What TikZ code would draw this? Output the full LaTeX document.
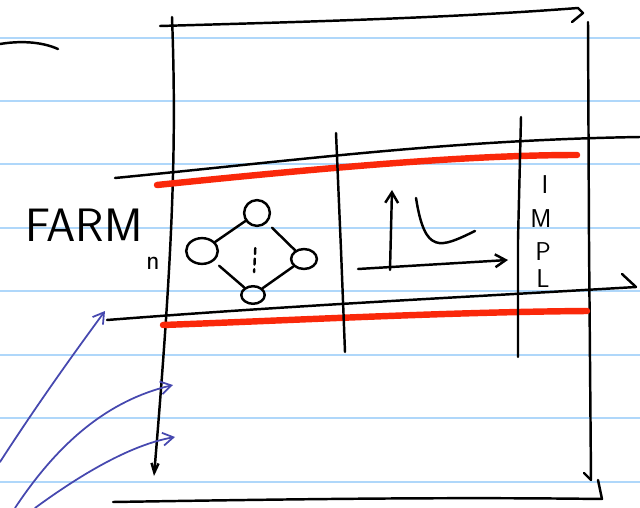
\documentclass[tikz,border=0pt]{standalone}
\usetikzlibrary{arrows.meta,shapes.geometric}

\definecolor{rulecol}{RGB}{175,215,250}
\definecolor{markercol}{RGB}{250,40,10}
\definecolor{inkblue}{RGB}{70,72,175}

\begin{document}
\begin{tikzpicture}[x=0.03cm, y=-0.03cm, line cap=round, line join=round,
    pen/.style={black, line width=2.1pt},
    marker/.style={markercol, line width=5.5pt},
    bluepen/.style={inkblue, line width=1.5pt},
    ruled/.style={rulecol, line width=1.4pt},
    barb/.style={-{Straight Barb[length=9pt, width=11pt]}},
    dot/.style={ellipse, draw, line width=2.1pt, inner sep=0pt},
    bigletter/.style={font=\sffamily\fontsize{40}{44}\selectfont, inner sep=0pt},
    letter/.style={font=\sffamily\fontsize{22}{24}\selectfont, inner sep=0pt}]
    \useasboundingbox (0,0) rectangle (640,508);

    % Notebook rules
    \foreach \y in {38,101,164,228,291,355,418,482}
        \draw[ruled] (0,\y) -- (640,\y);

    % Scribble top left
    \draw[pen] (0,44) .. controls (18,41) and (40,41) .. (58,49);

    % Outer frame
    \draw[pen] (160,26) .. controls (300,22) and (450,18) .. (578,8) -- (583,13) -- (572,22);
    \draw[pen, -{Straight Barb[length=8pt, width=6pt]}] (172,17) .. controls (177,150) and (172,260) .. (154,476);
    \draw[pen] (588,22) -- (589,240) -- (591,480);
    \draw[pen] (584,473) -- (591,480);
    \draw[pen] (113,502) .. controls (300,499) and (450,497) .. (602,499) -- (598,480);

    % Band lines
    \draw[pen] (115,178) .. controls (300,160) and (450,140) .. (640,137);
    \draw[pen] (107,320) .. controls (300,305) and (450,298) .. (636,287);
    \draw[pen] (622,274) -- (636,287);
    \draw[marker] (157,185) .. controls (350,165) and (480,155) .. (577,155);
    \draw[marker] (163,325) .. controls (300,320) and (450,312) .. (587,311);

    % Dividers
    \draw[pen] (336,133) -- (341,250) -- (345,352);
    \draw[pen] (521,117) -- (518,240) -- (518,357);

    % Label
    \node[bigletter] (farm) at (84,225) {FARM};
    \node[letter, font=\sffamily\fontsize{24}{26}\selectfont] (farmsub) at (153,263) {n};

    % Graph
    \node[dot, minimum width=27pt, minimum height=22pt] (gleft) at (202,251) {};
    \node[dot, minimum width=22pt, minimum height=22pt] (gtop) at (257,213) {};
    \node[dot, minimum width=22pt, minimum height=17pt] (gright) at (304,259) {};
    \node[dot, minimum width=20pt, minimum height=15pt] (gbottom) at (253,295) {};
    \draw[pen] (gleft) -- (gtop);
    \draw[pen, shorten <=6pt] (gtop) -- (gright);
    \draw[pen] (gright) -- (gbottom);
    \draw[pen, shorten <=6pt] (gleft) -- (gbottom);
    \draw[pen, dashed, dash pattern=on 5pt off 4pt, shorten <=18pt, shorten >=11pt] (gtop) -- (gbottom);

    % Plot
    \draw[pen, barb] (390,270) -- (392,190);
    \draw[pen, barb] (358,269) -- (508,260);
    \draw[pen] (416,198) .. controls (425,255) and (440,248) .. (475,231);

    % Vertical word
    \node[letter] (li) at (545,185) {I};
    \node[letter] (lm) at (541,219) {M};
    \node[letter] (lp) at (543,252) {P};
    \node[letter] (ll) at (543,279) {L};

    % Blue arrows
    \draw[bluepen, barb] (0,462) .. controls (40,400) and (80,345) .. (105,311);
    \draw[bluepen, barb] (15,508) .. controls (60,440) and (110,400) .. (173,385);
    \draw[bluepen, barb] (35,508) .. controls (80,475) and (130,445) .. (175,437);
\end{tikzpicture}
\end{document}
